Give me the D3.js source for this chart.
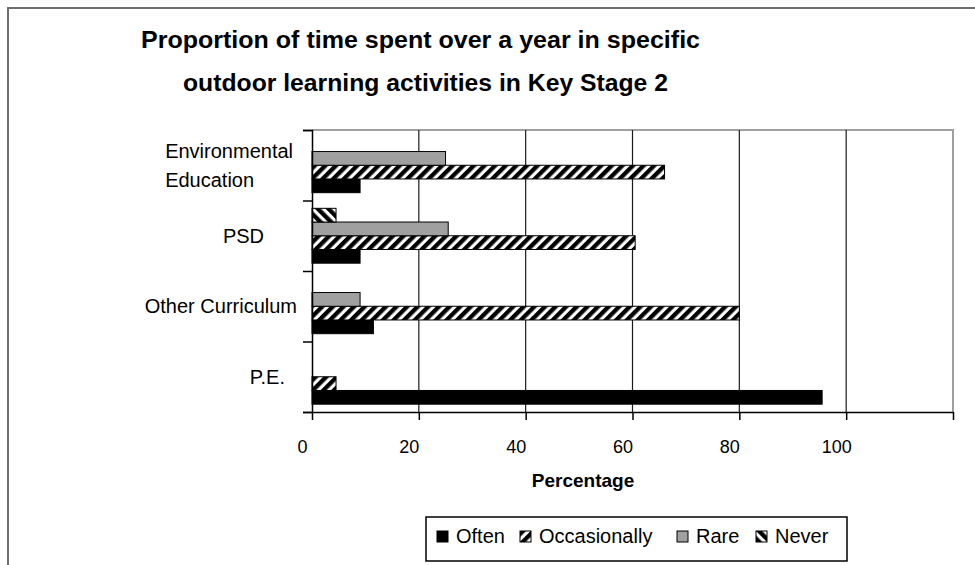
<!DOCTYPE html>
<meta charset="utf-8">
<style>
body { margin: 0; background: #fff; }
text { font-family: "Liberation Sans", Arial, sans-serif; fill: #000; }
.title { font-weight: bold; font-size: 23px; }
.cat { font-size: 20px; }
.tick text { font-size: 18px; }
.legend text { font-size: 20px; }
.axisTitle { font-weight: bold; font-size: 19px; }
</style>
<svg width="975" height="565"></svg>
<script src="https://cdnjs.cloudflare.com/ajax/libs/d3/7.8.5/d3.min.js"></script>
<script>

// categories listed top to bottom as they appear on the chart
var categories = ["Environmental Education", "PSD", "Other Curriculum", "P.E."];
var series = ["Often", "Occasionally", "Rare", "Never"];

// values (percent) per series, in the same order as categories
var often        = [9, 9, 11.5, 95.5];
var occasionally = [66, 60.5, 80, 4.5];
var rare         = [25, 25.5, 9, 0];
var never        = [0, 4.5, 0, 0];

var xTicks = [0, 20, 40, 60, 80, 100, 120];
// the last tick has no label in the original
var xTickLabels = ["0", "20", "40", "60", "80", "100", ""];

var titleLines = ["Proportion of time spent over a year in specific",
                  "outdoor learning activities in Key Stage 2"];

var svg = d3.select("svg");

// note: "top" is a reserved window property, so use other names
var plotLeft = 312, plotRight = 953, plotTop = 130, plotBottom = 412;

var x = d3.scaleLinear().domain([0, 120]).range([plotLeft, plotRight]);

var y0 = d3.scaleBand().domain(categories).range([plotTop, plotBottom]);

// within a category, Never is on top and Often at the bottom
var y1 = d3.scaleBand().domain(series.slice().reverse())
    .range([0, y0.bandwidth()]).paddingOuter(0.57);

var fills = {"Often": "#000", "Occasionally": "url(#hatchOcc)", "Rare": "#a0a0a0", "Never": "url(#hatchNever)"};

// hatch patterns
var defs = svg.append("defs");
function hatch(id, angle) {
  var p = defs.append("pattern")
    .attr("id", id)
    .attr("patternUnits", "userSpaceOnUse")
    .attr("width", 7.5).attr("height", 7.5)
    .attr("patternTransform", "rotate(" + angle + ")");
  p.append("rect").attr("width", 7.5).attr("height", 7.5).attr("fill", "#fff");
  p.append("rect").attr("width", 4.3).attr("height", 7.5).attr("fill", "#000");
}
hatch("hatchOcc", 45);
hatch("hatchNever", -45);

// outer chart border
svg.append("rect")
  .attr("x", 8).attr("y", 8)
  .attr("width", 1000).attr("height", 600)
  .attr("fill", "none").attr("stroke", "#6e6e6e").attr("stroke-width", 2);

// title
svg.selectAll(".title").data(titleLines).enter()
  .append("text").attr("class", "title")
  .attr("x", function(d, i) { return i == 0 ? 420.5 : 425.5; })
  .attr("y", function(d, i) { return 48 + i * 43; })
  .attr("text-anchor", "middle")
  .attr("textLength", function(d, i) { return i == 0 ? 559 : 485; })
  .attr("lengthAdjust", "spacingAndGlyphs")
  .text(function(d) { return d; });

// plot area border (top and right, gray)
svg.append("path")
  .attr("d", "M" + plotLeft + "," + plotTop + "H" + plotRight + "V" + plotBottom)
  .attr("fill", "none").attr("stroke", "#a0a0a0").attr("stroke-width", 2);

// gridlines
svg.append("g").selectAll("line")
  .data(xTicks.filter(function(d) { return d > 0 && d < 120; }))
  .enter().append("line")
  .attr("x1", function(d) { return x(d); })
  .attr("x2", function(d) { return x(d); })
  .attr("y1", plotTop).attr("y2", plotBottom)
  .attr("stroke", "#1a1a1a").attr("stroke-width", 1.2);

// bars
var rows = series.map(function(s, si) {
  var vals = [often, occasionally, rare, never][si];
  return categories.map(function(c, ci) { return {series: s, cat: c, value: vals[ci]}; });
});

svg.append("g").selectAll("g")
  .data(rows).enter().append("g")
  .selectAll("rect")
  .data(function(d) { return d.filter(function(v) { return v.value > 0; }); })
  .enter().append("rect")
  .attr("x", x(0))
  .attr("y", function(d) { return y0(d.cat) + y1(d.series); })
  .attr("width", function(d) { return x(d.value) - x(0); })
  .attr("height", y1.bandwidth())
  .attr("fill", function(d) { return fills[d.series]; })
  .attr("stroke", "#000").attr("stroke-width", 1);

// x axis
var xAxis = svg.append("g")
  .attr("transform", "translate(0," + plotBottom + ")")
  .call(d3.axisBottom(x).tickValues(xTicks).tickSize(8).tickSizeOuter(0)
        .tickFormat(function(d, i) { return xTickLabels[i]; }));
xAxis.attr("font-family", null).attr("font-size", null);
xAxis.select(".domain").attr("stroke-width", 1.5);
xAxis.selectAll(".tick line").attr("stroke-width", 1.5);
xAxis.selectAll(".tick text")
  .attr("dx", -10).attr("y", 41).attr("dy", 0);

// y axis with ticks at category boundaries
var yb = d3.scaleLinear().domain([0, categories.length]).range([plotTop, plotBottom]);
var yAxis = svg.append("g")
  .attr("transform", "translate(" + plotLeft + ",0)")
  .call(d3.axisLeft(yb).tickValues(d3.range(categories.length + 1)).tickSize(9).tickFormat(""));
yAxis.select(".domain").attr("stroke-width", 1.5);
yAxis.selectAll(".tick line").attr("stroke-width", 1.5);

// category labels (Excel puts them at slightly uneven spots)
var labelShift = {"Environmental Education": 4, "PSD": 33, "Other Curriculum": 0, "P.E.": 12};
var labelLines = {"Environmental Education": ["Environmental", "Education"]};
var labelRight = 297;

categories.forEach(function(c) {
  var lines = labelLines[c] || [c];
  var cy = y0(c) + y0.bandwidth() / 2;
  var t = svg.append("text").attr("class", "cat");
  lines.forEach(function(l, i) {
    t.append("tspan").attr("y", cy + 7 - (lines.length - 1) * 14.5 + i * 29).text(l);
  });
  var w = d3.max(t.selectAll("tspan").nodes(), function(n) { return n.getComputedTextLength(); });
  t.selectAll("tspan").attr("x", labelRight - labelShift[c] - w);
});

// axis title
svg.append("text").attr("class", "axisTitle")
  .attr("x", 583).attr("y", 487)
  .attr("text-anchor", "middle")
  .text("Percentage");

// legend
var legend = svg.append("g").attr("class", "legend");
legend.append("rect")
  .attr("x", 426).attr("y", 517).attr("width", 421).attr("height", 44)
  .attr("fill", "#fff").attr("stroke", "#000").attr("stroke-width", 1.5);

var legendX = [437, 520, 677, 756];
var item = legend.selectAll(".item").data(series).enter()
  .append("g").attr("class", "item")
  .attr("transform", function(d, i) { return "translate(" + legendX[i] + ",531)"; });
item.append("rect")
  .attr("width", 11).attr("height", 11)
  .attr("fill", function(d) { return fills[d]; })
  .attr("stroke", "#000").attr("stroke-width", 1);
item.append("text")
  .attr("x", 19).attr("y", 11.5)
  .text(function(d) { return d; });

</script>
